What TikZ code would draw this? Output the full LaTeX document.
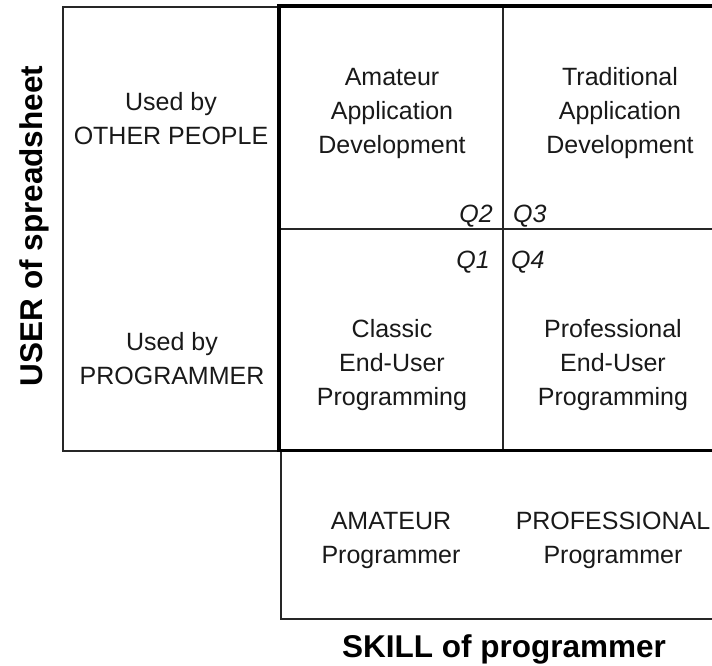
\documentclass[tikz,border=0pt]{standalone}
\usepackage{fontspec}
\setmainfont{Liberation Sans}
\begin{document}
\begin{tikzpicture}[x=1pt,y=-1pt,
  thinline/.style={line width=2pt, draw=black!85},
  boldline/.style={line width=3.6pt, draw=black},
  txt/.style={anchor=base, inner sep=0pt, text=black!90, font=\fontsize{25}{34}\selectfont},
  qlab/.style={inner sep=0pt, text=black!90, font=\fontsize{25}{34}\selectfont\itshape},
  axis/.style={anchor=base, inner sep=0pt, font=\bfseries\fontsize{31.5}{36}\selectfont}]
\useasboundingbox (0,0) rectangle (712,665);
\clip (0,0) rectangle (712,665);
% frame coordinates
\coordinate (LT) at (63,7);
\coordinate (LB) at (279,451);
\coordinate (BT) at (279,6);
\coordinate (BR) at (730,6);
\coordinate (BB) at (279,450.5);
\coordinate (BBR) at (730,450.5);
\coordinate (VT) at (503,6);
\coordinate (VB) at (503,450.5);
\coordinate (HL) at (279,229);
\coordinate (HR) at (730,229);
\coordinate (SL) at (281,450.5);
\coordinate (SB) at (281,619);
\coordinate (SR) at (730,619);
% left box
\draw[thinline] (LT) rectangle (LB);
% bottom box
\draw[thinline] (SL) -- (SB) -- (SR);
% dividers
\draw[thinline] (VT) -- (VB);
\draw[thinline] (HL) -- (HR);
% bold box
\draw[boldline, line join=miter] (BR) -- (BT) -- (BB) -- (BBR);
% texts
\node[txt] (op) at (171,110) {\begin{tabular}[t]{@{}c@{}}Used by\\OTHER PEOPLE\end{tabular}};
\node[txt] (pr) at (172,350) {\begin{tabular}[t]{@{}c@{}}Used by\\PROGRAMMER\end{tabular}};
\node[txt] (aad) at (392,85) {\begin{tabular}[t]{@{}c@{}}Amateur\\Application\\Development\end{tabular}};
\node[txt] (tad) at (620,85) {\begin{tabular}[t]{@{}c@{}}Traditional\\Application\\Development\end{tabular}};
\node[txt] (ceu) at (392,337) {\begin{tabular}[t]{@{}c@{}}Classic\\End-User\\Programming\end{tabular}};
\node[txt] (peu) at (613,337) {\begin{tabular}[t]{@{}c@{}}Professional\\End-User\\Programming\end{tabular}};
\node[txt] (am) at (391,529) {\begin{tabular}[t]{@{}c@{}}AMATEUR\\Programmer\end{tabular}};
\node[txt] (pf) at (613,529) {\begin{tabular}[t]{@{}c@{}}PROFESSIONAL\\Programmer\end{tabular}};
% quadrant labels
\node[qlab, anchor=base east] (q2) at (493,222) {Q2};
\node[qlab, anchor=base west] (q3) at (513,222) {Q3};
\node[qlab, anchor=base east] (q1) at (490,268) {Q1};
\node[qlab, anchor=base west] (q4) at (511,268) {Q4};
% axis titles
\node[axis, rotate=90] (ya) at (42,226) {USER of spreadsheet};
\node[axis] (xa) at (504,657) {SKILL of programmer};
\end{tikzpicture}
\end{document}
